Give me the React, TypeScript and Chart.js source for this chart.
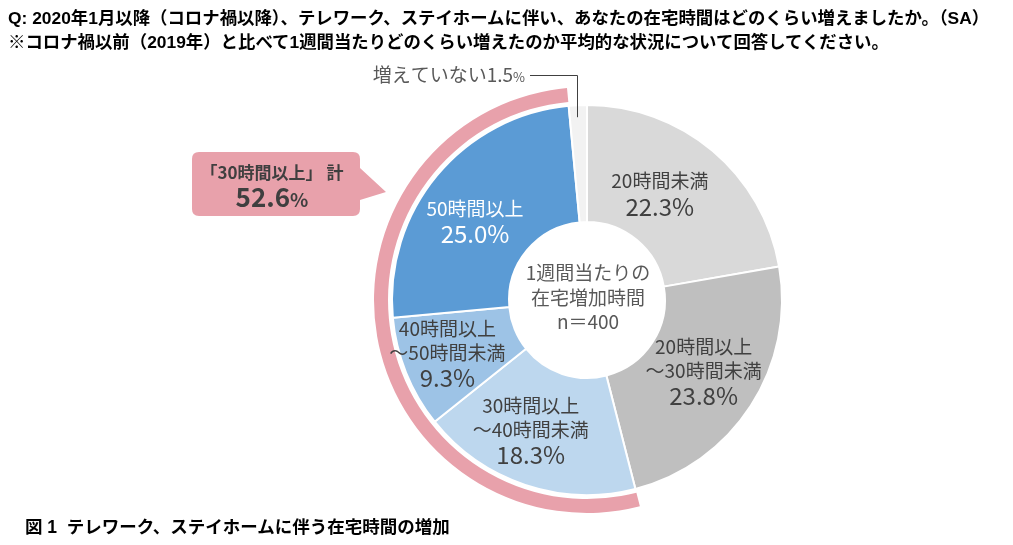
import React, { useEffect, useRef } from "react";
import { Chart, registerables } from "chart.js";

Chart.register(...registerables);

const categories = [
  "20時間未満",
  "20時間以上～30時間未満",
  "30時間以上～40時間未満",
  "40時間以上～50時間未満",
  "50時間以上",
  "増えていない",
];
const labelLines = [
  ["20時間未満"],
  ["20時間以上", "～30時間未満"],
  ["30時間以上", "～40時間未満"],
  ["40時間以上", "～50時間未満"],
  ["50時間以上"],
  [],
];
const values = [22.3, 23.8, 18.3, 9.3, 25.0, 1.5];
const colors = ["#D9D9D9", "#BFBFBF", "#BDD7EE", "#9DC3E6", "#5B9BD5", "#F2F2F2"];
const textColors = ["#404040", "#404040", "#404040", "#404040", "#FFFFFF", "#404040"];
const centerLines = ["1週間当たりの", "在宅増加時間", "n＝400"];
const titleLines = [
  "Q: 2020年1月以降（コロナ禍以降）、テレワーク、ステイホームに伴い、あなたの在宅時間はどのくらい増えましたか。（SA）",
  "※コロナ禍以前（2019年）と比べて1週間当たりどのくらい増えたのか平均的な状況について回答してください。",
];
const caption = "図 1  テレワーク、ステイホームに伴う在宅時間の増加";
const highlightStart = 2; // 30時間以上
const highlightEnd = 4;
const highlightTitle = "「30時間以上」 計";

const PINK = "#E8A1AB";
const FONT = "'Noto Sans CJK JP', 'Noto Sans', sans-serif";

const before = values.slice(0, highlightStart).reduce((a, b) => a + b, 0);
const highlight = values.slice(highlightStart, highlightEnd + 1).reduce((a, b) => a + b, 0);
const after = values.slice(highlightEnd + 1).reduce((a, b) => a + b, 0);
const pinkData = [before, highlight, after];

const labelOffsets = [
  [-15, -2],
  [2, -3],
  [-13, 0],
  [-13, 2],
  [-7, 8],
  [0, 0],
];

const labelPlugin = {
  id: "labels",
  afterDatasetsDraw(chart: any) {
    const ctx = chart.ctx;
    const meta = chart.getDatasetMeta(2);
    ctx.save();
    ctx.textAlign = "center";
    ctx.textBaseline = "middle";
    let cx = 0, cy = 0;
    meta.data.forEach((arc: any, i: number) => {
      const p = arc.getProps(["x", "y", "startAngle", "endAngle", "innerRadius", "outerRadius"], true);
      cx = p.x; cy = p.y;
      const mid = (p.startAngle + p.endAngle) / 2;
      if (i === values.length - 1) {
        // external label with leader line
        const lx = Math.round(p.x + Math.cos(mid) * (p.outerRadius - 2)) - 1;
        const ly = p.y + Math.sin(mid) * (p.outerRadius - 2);
        const topY = 75;
        ctx.strokeStyle = "#404040";
        ctx.lineWidth = 1;
        ctx.beginPath();
        ctx.moveTo(lx + 0.5, ly + 10);
        ctx.lineTo(lx + 0.5, topY + 0.5);
        ctx.lineTo(lx - 47, topY + 0.5);
        ctx.stroke();
        ctx.textAlign = "right";
        ctx.fillStyle = "#595959";
        const pct = "%";
        ctx.font = `13px ${FONT}`;
        const pw = ctx.measureText(pct).width;
        const rx = lx - 52;
        ctx.fillText(pct, rx, topY + 2);
        ctx.font = `19px ${FONT}`;
        ctx.fillText(categories[i] + values[i].toFixed(1), rx - pw, topY);
        ctx.textAlign = "center";
        return;
      }
      const r = (p.innerRadius + p.outerRadius) / 2;
      const x = p.x + Math.cos(mid) * r + labelOffsets[i][0];
      const y = p.y + Math.sin(mid) * r + labelOffsets[i][1];
      const lines = labelLines[i];
      const total = lines.length + 1;
      const lh = total === 2 ? 25 : 24;
      const y0 = y - ((total - 1) * lh) / 2;
      ctx.fillStyle = textColors[i];
      lines.forEach((t, k) => {
        ctx.font = `19px ${FONT}`;
        ctx.fillText(t, x, y0 + k * lh);
      });
      ctx.font = `24px ${FONT}`;
      ctx.fillText(values[i].toFixed(1) + "%", x, y0 + lines.length * lh + 1);
    });
    // center text
    ctx.fillStyle = "#595959";
    ctx.font = `19px ${FONT}`;
    centerLines.forEach((t, k) => {
      ctx.fillText(t, cx + 1, cy - 27 + k * 24.5);
    });
    // callout
    const bx = 192, by = 152, bw = 168, bh = 64, br = 7;
    ctx.fillStyle = PINK;
    ctx.beginPath();
    ctx.moveTo(bx + br, by);
    ctx.lineTo(bx + bw - br, by);
    ctx.quadraticCurveTo(bx + bw, by, bx + bw, by + br);
    ctx.lineTo(bx + bw, by + 16);
    ctx.lineTo(bx + bw + 26, by + 40);
    ctx.lineTo(bx + bw, by + 48);
    ctx.lineTo(bx + bw, by + bh - br);
    ctx.quadraticCurveTo(bx + bw, by + bh, bx + bw - br, by + bh);
    ctx.lineTo(bx + br, by + bh);
    ctx.quadraticCurveTo(bx, by + bh, bx, by + bh - br);
    ctx.lineTo(bx, by + br);
    ctx.quadraticCurveTo(bx, by, bx + br, by);
    ctx.closePath();
    ctx.fill();
    ctx.fillStyle = "#3F3F3F";
    ctx.font = `bold 17px ${FONT}`;
    ctx.fillText(highlightTitle, bx + bw / 2 - 4, by + 21);
    const num = highlight.toFixed(1);
    ctx.font = `bold 26px ${FONT}`;
    const nw = ctx.measureText(num).width;
    ctx.font = `bold 19px ${FONT}`;
    const sw = ctx.measureText("%").width;
    const sx = bx + bw / 2 - (nw + sw) / 2 - 4;
    ctx.textAlign = "left";
    ctx.font = `bold 26px ${FONT}`;
    ctx.fillText(num, sx, by + 45);
    ctx.font = `bold 19px ${FONT}`;
    ctx.fillText("%", sx + nw, by + 48);
    ctx.restore();
  },
};

export default function App() {
  const ref = useRef<HTMLCanvasElement | null>(null);
  useEffect(() => {
    if (!ref.current) return;
    const chart = new Chart(ref.current, {
      type: "doughnut",
      data: {
        labels: categories,
        datasets: [
          {
            data: pinkData,
            backgroundColor: ["rgba(0,0,0,0)", PINK, "rgba(0,0,0,0)"],
            borderWidth: 0,
            weight: 14,
          } as any,
          {
            data: values,
            backgroundColor: values.map(() => "rgba(0,0,0,0)"),
            borderWidth: 0,
            weight: 4,
          } as any,
          {
            data: values,
            backgroundColor: colors,
            borderColor: "#FFFFFF",
            borderWidth: 2,
            weight: 117,
          } as any,
        ],
      },
      options: {
        animation: false,
        responsive: false,
        events: [],
        radius: 213,
        cutout: "36.6%",
        layout: { padding: { left: 161, top: 55, right: 0, bottom: 0 } },
        plugins: { legend: { display: false }, tooltip: { enabled: false } },
      } as any,
      plugins: [labelPlugin],
    });
    return () => chart.destroy();
  }, []);

  return (
    <div style={{ position: "absolute", left: 0, top: 0, width: 1013, height: 545, background: "#fff", overflow: "hidden" }}>
      <canvas ref={ref} width={1013} height={545} style={{ position: "absolute", left: 0, top: 0, width: 1013, height: 545 }} />
      <div
        style={{
          position: "absolute",
          left: 8,
          top: 6,
          fontFamily: "'Liberation Sans', 'Noto Sans CJK JP', sans-serif",
          fontWeight: "bold",
          fontSize: 17.4,
          lineHeight: "24px",
          color: "#000",
          whiteSpace: "nowrap",
        }}
      >
        {titleLines.map((t, i) => (
          <div key={i}>{t}</div>
        ))}
      </div>
      <div
        style={{
          position: "absolute",
          left: 25,
          top: 515,
          fontFamily: "'Liberation Sans', 'Noto Sans CJK JP', sans-serif",
          fontWeight: "bold",
          fontSize: 17.5,
          lineHeight: "24px",
          color: "#000",
          whiteSpace: "pre",
        }}
      >
        {caption}
      </div>
    </div>
  );
}
